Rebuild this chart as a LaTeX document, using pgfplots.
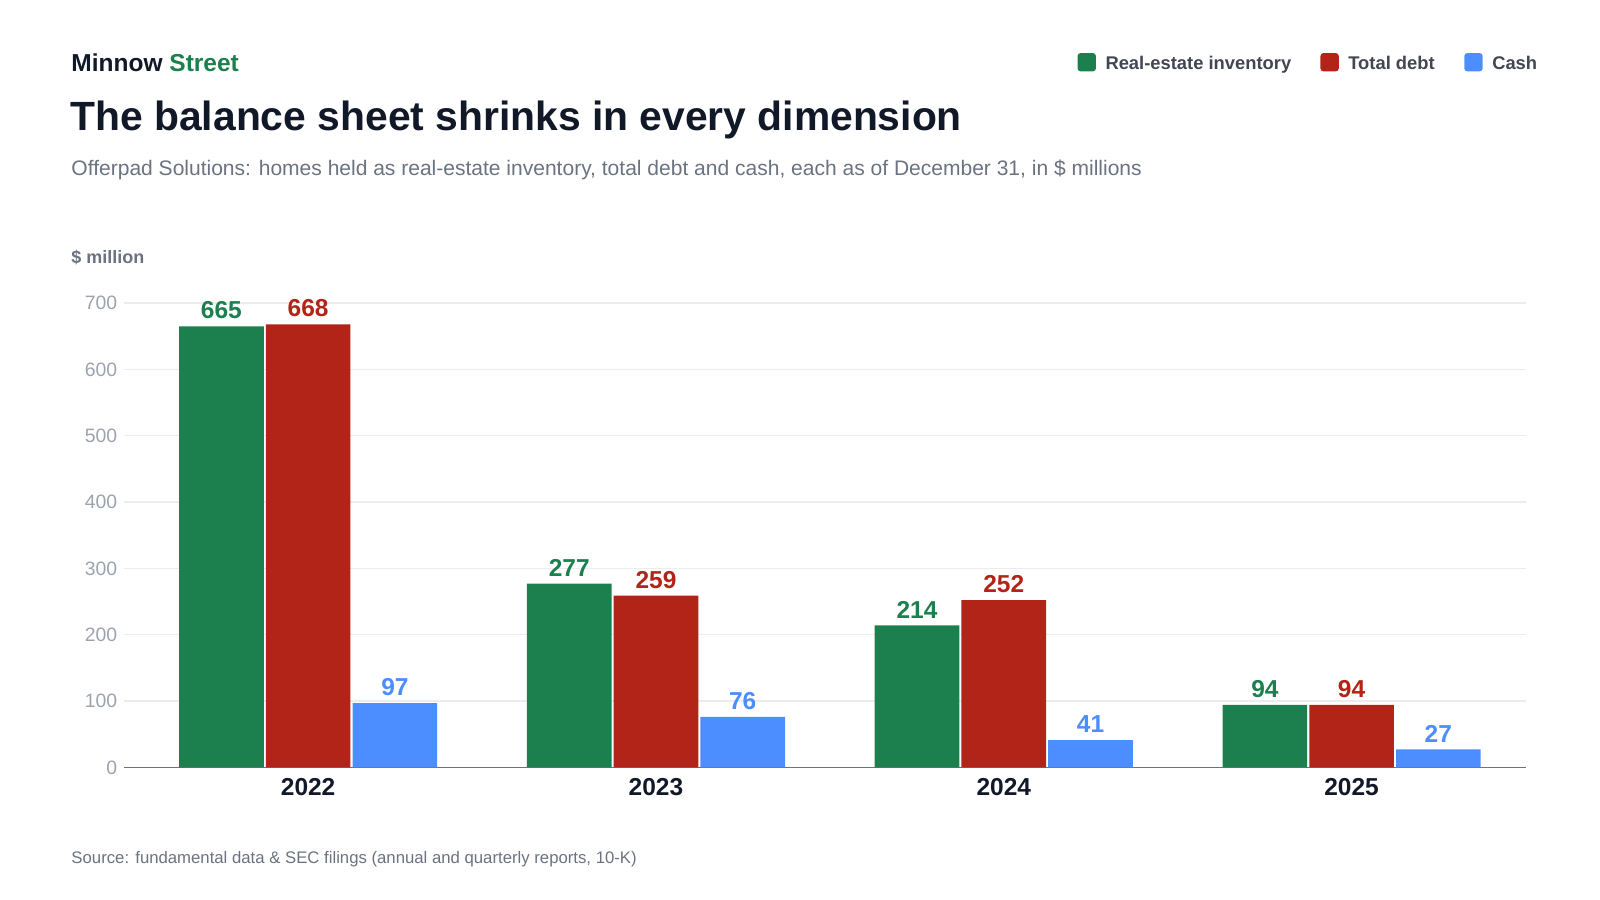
\documentclass[border=0pt]{standalone}
\usepackage{pgfplots}
\pgfplotsset{compat=1.18}
\usepackage{fontspec}
\setmainfont{Liberation Sans}
\definecolor{cg}{HTML}{1C7F4E}
\definecolor{cr}{HTML}{B22418}
\definecolor{cb}{HTML}{4C8DFF}
\definecolor{dk}{HTML}{111827}
\definecolor{gy}{HTML}{6B7280}
\definecolor{tg}{HTML}{9CA3AF}
\begin{document}
\begin{tikzpicture}
\useasboundingbox (0pt,0pt) rectangle (784pt,441pt);
\begin{axis}[at={(61pt,65pt)},anchor=south west,scale only axis,width=686.5pt,height=227.5pt,
 xmin=-0.528,xmax=3.5,ymin=0,ymax=700,clip=false,
 ybar,bar width=41.5pt,
 xtick={0,1,2,3},xticklabels={2022,2023,2024,2025},
 xticklabel style={font=\fontsize{12}{14}\selectfont\bfseries,text=dk,yshift=-2pt},
 ytick={0,100,...,700},
 yticklabel style={font=\fontsize{9.5}{11}\selectfont,text=tg},
 /pgf/number format/assume math mode=true,
 axis x line*=bottom, axis y line*=left,
 x axis line style={draw=gy,line width=0.8pt,-},
 y axis line style={draw=none},
 major tick length=0pt,
 ymajorgrids,grid style={draw=gray!15,line width=0.6pt},
 nodes near coords,
 every node near coord/.append style={font=\fontsize{12}{14}\selectfont\bfseries},
]
\addplot[fill=cg,draw=none,bar shift=-42.5pt,every node near coord/.append style={text=cg}] coordinates {(0,665)(1,277)(2,214)(3,94)};
\addplot[fill=cr,draw=none,bar shift=0pt,every node near coord/.append style={text=cr}] coordinates {(0,668)(1,259)(2,252)(3,94)};
\addplot[fill=cb,draw=none,bar shift=42.5pt,every node near coord/.append style={text=cb}] coordinates {(0,97)(1,76)(2,41)(3,27)};
\end{axis}
\node[anchor=base west,font=\fontsize{12}{14}\selectfont\bfseries] at (31.5pt,406pt) {\textcolor{dk}{Minnow} \textcolor{cg}{Street}};
\node[anchor=base west,font=\fontsize{20}{24}\selectfont\bfseries,text=dk] at (31pt,377pt) {The balance sheet shrinks in every dimension};
\node[anchor=base west,font=\fontsize{10.3}{12}\selectfont,text=gy] at (31.5pt,355pt) {Offerpad Solutions: homes held as real-estate inventory, total debt and cash, each as of December 31, in \$ millions};
\node[anchor=base west,font=\fontsize{8.8}{11}\selectfont\bfseries,text=gy] at (31.5pt,312pt) {\$ million};
\node[anchor=base west,font=\fontsize{8.2}{10}\selectfont,text=gy] at (31.5pt,18pt) {Source: fundamental data \& SEC filings (annual and quarterly reports, 10-K)};
\foreach \xx/\cc/\tt in {528/cg/Real-estate inventory,647/cr/Total debt,717.5/cb/Cash}{
 \fill[\cc,rounded corners=1.5pt] (\xx pt,406pt) rectangle ++(9pt,9pt);
 \node[anchor=base west,font=\fontsize{9}{11}\selectfont\bfseries,text=dk!80,inner sep=0pt] at (\xx pt+13.5pt,407pt) {\tt};
}
\end{tikzpicture}
\end{document}
